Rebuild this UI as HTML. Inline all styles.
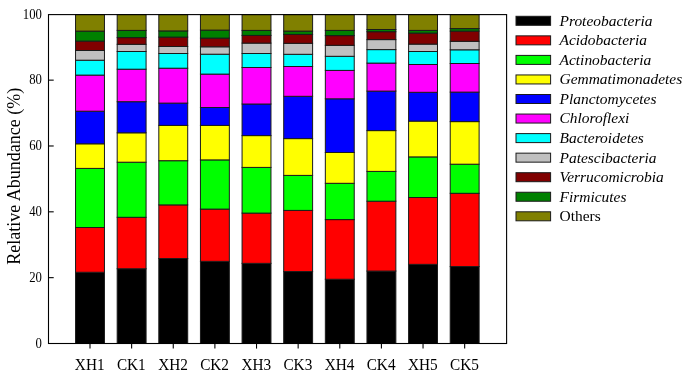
<!DOCTYPE html><html><head><meta charset="utf-8"><title>Relative Abundance</title>
<style>html,body{margin:0;padding:0;background:#fff;}svg{display:block;}text{font-family:"Liberation Serif","Times New Roman",serif;fill:#000;}</style></head><body>
<svg width="685" height="386" viewBox="0 0 685 386">
<rect x="0" y="0" width="685" height="386" fill="#fff"/>
<rect x="75.55" y="272.25" width="28.9" height="71.25" fill="#000000" stroke="#1a1a1a" stroke-width="1"/>
<rect x="75.55" y="227.50" width="28.9" height="44.75" fill="#ff0000" stroke="#1a1a1a" stroke-width="1"/>
<rect x="75.55" y="168.40" width="28.9" height="59.10" fill="#00ff00" stroke="#1a1a1a" stroke-width="1"/>
<rect x="75.55" y="143.80" width="28.9" height="24.60" fill="#ffff00" stroke="#1a1a1a" stroke-width="1"/>
<rect x="75.55" y="111.20" width="28.9" height="32.60" fill="#0000ff" stroke="#1a1a1a" stroke-width="1"/>
<rect x="75.55" y="75.10" width="28.9" height="36.10" fill="#ff00ff" stroke="#1a1a1a" stroke-width="1"/>
<rect x="75.55" y="60.20" width="28.9" height="14.90" fill="#00ffff" stroke="#1a1a1a" stroke-width="1"/>
<rect x="75.55" y="50.50" width="28.9" height="9.70" fill="#c0c0c0" stroke="#1a1a1a" stroke-width="1"/>
<rect x="75.55" y="41.10" width="28.9" height="9.40" fill="#800000" stroke="#1a1a1a" stroke-width="1"/>
<rect x="75.55" y="31.10" width="28.9" height="10.00" fill="#008000" stroke="#1a1a1a" stroke-width="1"/>
<rect x="75.55" y="14.60" width="28.9" height="16.50" fill="#808000" stroke="#1a1a1a" stroke-width="1"/>
<rect x="117.18" y="268.75" width="28.9" height="74.75" fill="#000000" stroke="#1a1a1a" stroke-width="1"/>
<rect x="117.18" y="217.30" width="28.9" height="51.45" fill="#ff0000" stroke="#1a1a1a" stroke-width="1"/>
<rect x="117.18" y="162.20" width="28.9" height="55.10" fill="#00ff00" stroke="#1a1a1a" stroke-width="1"/>
<rect x="117.18" y="132.80" width="28.9" height="29.40" fill="#ffff00" stroke="#1a1a1a" stroke-width="1"/>
<rect x="117.18" y="101.70" width="28.9" height="31.10" fill="#0000ff" stroke="#1a1a1a" stroke-width="1"/>
<rect x="117.18" y="69.20" width="28.9" height="32.50" fill="#ff00ff" stroke="#1a1a1a" stroke-width="1"/>
<rect x="117.18" y="51.50" width="28.9" height="17.70" fill="#00ffff" stroke="#1a1a1a" stroke-width="1"/>
<rect x="117.18" y="44.30" width="28.9" height="7.20" fill="#c0c0c0" stroke="#1a1a1a" stroke-width="1"/>
<rect x="117.18" y="37.60" width="28.9" height="6.70" fill="#800000" stroke="#1a1a1a" stroke-width="1"/>
<rect x="117.18" y="30.40" width="28.9" height="7.20" fill="#008000" stroke="#1a1a1a" stroke-width="1"/>
<rect x="117.18" y="14.60" width="28.9" height="15.80" fill="#808000" stroke="#1a1a1a" stroke-width="1"/>
<rect x="158.81" y="258.55" width="28.9" height="84.95" fill="#000000" stroke="#1a1a1a" stroke-width="1"/>
<rect x="158.81" y="204.90" width="28.9" height="53.65" fill="#ff0000" stroke="#1a1a1a" stroke-width="1"/>
<rect x="158.81" y="160.70" width="28.9" height="44.20" fill="#00ff00" stroke="#1a1a1a" stroke-width="1"/>
<rect x="158.81" y="125.40" width="28.9" height="35.30" fill="#ffff00" stroke="#1a1a1a" stroke-width="1"/>
<rect x="158.81" y="103.10" width="28.9" height="22.30" fill="#0000ff" stroke="#1a1a1a" stroke-width="1"/>
<rect x="158.81" y="68.20" width="28.9" height="34.90" fill="#ff00ff" stroke="#1a1a1a" stroke-width="1"/>
<rect x="158.81" y="53.50" width="28.9" height="14.70" fill="#00ffff" stroke="#1a1a1a" stroke-width="1"/>
<rect x="158.81" y="46.50" width="28.9" height="7.00" fill="#c0c0c0" stroke="#1a1a1a" stroke-width="1"/>
<rect x="158.81" y="37.10" width="28.9" height="9.40" fill="#800000" stroke="#1a1a1a" stroke-width="1"/>
<rect x="158.81" y="30.90" width="28.9" height="6.20" fill="#008000" stroke="#1a1a1a" stroke-width="1"/>
<rect x="158.81" y="14.60" width="28.9" height="16.30" fill="#808000" stroke="#1a1a1a" stroke-width="1"/>
<rect x="200.44" y="261.35" width="28.9" height="82.15" fill="#000000" stroke="#1a1a1a" stroke-width="1"/>
<rect x="200.44" y="209.10" width="28.9" height="52.25" fill="#ff0000" stroke="#1a1a1a" stroke-width="1"/>
<rect x="200.44" y="159.90" width="28.9" height="49.20" fill="#00ff00" stroke="#1a1a1a" stroke-width="1"/>
<rect x="200.44" y="125.40" width="28.9" height="34.50" fill="#ffff00" stroke="#1a1a1a" stroke-width="1"/>
<rect x="200.44" y="107.50" width="28.9" height="17.90" fill="#0000ff" stroke="#1a1a1a" stroke-width="1"/>
<rect x="200.44" y="74.10" width="28.9" height="33.40" fill="#ff00ff" stroke="#1a1a1a" stroke-width="1"/>
<rect x="200.44" y="54.20" width="28.9" height="19.90" fill="#00ffff" stroke="#1a1a1a" stroke-width="1"/>
<rect x="200.44" y="46.80" width="28.9" height="7.40" fill="#c0c0c0" stroke="#1a1a1a" stroke-width="1"/>
<rect x="200.44" y="38.10" width="28.9" height="8.70" fill="#800000" stroke="#1a1a1a" stroke-width="1"/>
<rect x="200.44" y="30.10" width="28.9" height="8.00" fill="#008000" stroke="#1a1a1a" stroke-width="1"/>
<rect x="200.44" y="14.60" width="28.9" height="15.50" fill="#808000" stroke="#1a1a1a" stroke-width="1"/>
<rect x="242.07" y="263.35" width="28.9" height="80.15" fill="#000000" stroke="#1a1a1a" stroke-width="1"/>
<rect x="242.07" y="213.10" width="28.9" height="50.25" fill="#ff0000" stroke="#1a1a1a" stroke-width="1"/>
<rect x="242.07" y="167.40" width="28.9" height="45.70" fill="#00ff00" stroke="#1a1a1a" stroke-width="1"/>
<rect x="242.07" y="135.60" width="28.9" height="31.80" fill="#ffff00" stroke="#1a1a1a" stroke-width="1"/>
<rect x="242.07" y="104.00" width="28.9" height="31.60" fill="#0000ff" stroke="#1a1a1a" stroke-width="1"/>
<rect x="242.07" y="67.50" width="28.9" height="36.50" fill="#ff00ff" stroke="#1a1a1a" stroke-width="1"/>
<rect x="242.07" y="53.50" width="28.9" height="14.00" fill="#00ffff" stroke="#1a1a1a" stroke-width="1"/>
<rect x="242.07" y="43.10" width="28.9" height="10.40" fill="#c0c0c0" stroke="#1a1a1a" stroke-width="1"/>
<rect x="242.07" y="35.40" width="28.9" height="7.70" fill="#800000" stroke="#1a1a1a" stroke-width="1"/>
<rect x="242.07" y="30.40" width="28.9" height="5.00" fill="#008000" stroke="#1a1a1a" stroke-width="1"/>
<rect x="242.07" y="14.60" width="28.9" height="15.80" fill="#808000" stroke="#1a1a1a" stroke-width="1"/>
<rect x="283.70" y="271.55" width="28.9" height="71.95" fill="#000000" stroke="#1a1a1a" stroke-width="1"/>
<rect x="283.70" y="210.40" width="28.9" height="61.15" fill="#ff0000" stroke="#1a1a1a" stroke-width="1"/>
<rect x="283.70" y="175.40" width="28.9" height="35.00" fill="#00ff00" stroke="#1a1a1a" stroke-width="1"/>
<rect x="283.70" y="138.60" width="28.9" height="36.80" fill="#ffff00" stroke="#1a1a1a" stroke-width="1"/>
<rect x="283.70" y="96.30" width="28.9" height="42.30" fill="#0000ff" stroke="#1a1a1a" stroke-width="1"/>
<rect x="283.70" y="66.50" width="28.9" height="29.80" fill="#ff00ff" stroke="#1a1a1a" stroke-width="1"/>
<rect x="283.70" y="54.30" width="28.9" height="12.20" fill="#00ffff" stroke="#1a1a1a" stroke-width="1"/>
<rect x="283.70" y="43.30" width="28.9" height="11.00" fill="#c0c0c0" stroke="#1a1a1a" stroke-width="1"/>
<rect x="283.70" y="34.40" width="28.9" height="8.90" fill="#800000" stroke="#1a1a1a" stroke-width="1"/>
<rect x="283.70" y="31.10" width="28.9" height="3.30" fill="#008000" stroke="#1a1a1a" stroke-width="1"/>
<rect x="283.70" y="14.60" width="28.9" height="16.50" fill="#808000" stroke="#1a1a1a" stroke-width="1"/>
<rect x="325.33" y="279.25" width="28.9" height="64.25" fill="#000000" stroke="#1a1a1a" stroke-width="1"/>
<rect x="325.33" y="219.60" width="28.9" height="59.65" fill="#ff0000" stroke="#1a1a1a" stroke-width="1"/>
<rect x="325.33" y="183.30" width="28.9" height="36.30" fill="#00ff00" stroke="#1a1a1a" stroke-width="1"/>
<rect x="325.33" y="152.50" width="28.9" height="30.80" fill="#ffff00" stroke="#1a1a1a" stroke-width="1"/>
<rect x="325.33" y="98.80" width="28.9" height="53.70" fill="#0000ff" stroke="#1a1a1a" stroke-width="1"/>
<rect x="325.33" y="70.40" width="28.9" height="28.40" fill="#ff00ff" stroke="#1a1a1a" stroke-width="1"/>
<rect x="325.33" y="56.30" width="28.9" height="14.10" fill="#00ffff" stroke="#1a1a1a" stroke-width="1"/>
<rect x="325.33" y="45.30" width="28.9" height="11.00" fill="#c0c0c0" stroke="#1a1a1a" stroke-width="1"/>
<rect x="325.33" y="35.60" width="28.9" height="9.70" fill="#800000" stroke="#1a1a1a" stroke-width="1"/>
<rect x="325.33" y="30.40" width="28.9" height="5.20" fill="#008000" stroke="#1a1a1a" stroke-width="1"/>
<rect x="325.33" y="14.60" width="28.9" height="15.80" fill="#808000" stroke="#1a1a1a" stroke-width="1"/>
<rect x="366.96" y="271.05" width="28.9" height="72.45" fill="#000000" stroke="#1a1a1a" stroke-width="1"/>
<rect x="366.96" y="201.20" width="28.9" height="69.85" fill="#ff0000" stroke="#1a1a1a" stroke-width="1"/>
<rect x="366.96" y="171.40" width="28.9" height="29.80" fill="#00ff00" stroke="#1a1a1a" stroke-width="1"/>
<rect x="366.96" y="130.60" width="28.9" height="40.80" fill="#ffff00" stroke="#1a1a1a" stroke-width="1"/>
<rect x="366.96" y="91.10" width="28.9" height="39.50" fill="#0000ff" stroke="#1a1a1a" stroke-width="1"/>
<rect x="366.96" y="63.10" width="28.9" height="28.00" fill="#ff00ff" stroke="#1a1a1a" stroke-width="1"/>
<rect x="366.96" y="49.60" width="28.9" height="13.50" fill="#00ffff" stroke="#1a1a1a" stroke-width="1"/>
<rect x="366.96" y="39.60" width="28.9" height="10.00" fill="#c0c0c0" stroke="#1a1a1a" stroke-width="1"/>
<rect x="366.96" y="31.70" width="28.9" height="7.90" fill="#800000" stroke="#1a1a1a" stroke-width="1"/>
<rect x="366.96" y="29.50" width="28.9" height="2.20" fill="#008000" stroke="#1a1a1a" stroke-width="1"/>
<rect x="366.96" y="14.60" width="28.9" height="14.90" fill="#808000" stroke="#1a1a1a" stroke-width="1"/>
<rect x="408.59" y="264.35" width="28.9" height="79.15" fill="#000000" stroke="#1a1a1a" stroke-width="1"/>
<rect x="408.59" y="197.50" width="28.9" height="66.85" fill="#ff0000" stroke="#1a1a1a" stroke-width="1"/>
<rect x="408.59" y="156.90" width="28.9" height="40.60" fill="#00ff00" stroke="#1a1a1a" stroke-width="1"/>
<rect x="408.59" y="121.10" width="28.9" height="35.80" fill="#ffff00" stroke="#1a1a1a" stroke-width="1"/>
<rect x="408.59" y="92.30" width="28.9" height="28.80" fill="#0000ff" stroke="#1a1a1a" stroke-width="1"/>
<rect x="408.59" y="64.50" width="28.9" height="27.80" fill="#ff00ff" stroke="#1a1a1a" stroke-width="1"/>
<rect x="408.59" y="51.50" width="28.9" height="13.00" fill="#00ffff" stroke="#1a1a1a" stroke-width="1"/>
<rect x="408.59" y="44.10" width="28.9" height="7.40" fill="#c0c0c0" stroke="#1a1a1a" stroke-width="1"/>
<rect x="408.59" y="33.10" width="28.9" height="11.00" fill="#800000" stroke="#1a1a1a" stroke-width="1"/>
<rect x="408.59" y="30.40" width="28.9" height="2.70" fill="#008000" stroke="#1a1a1a" stroke-width="1"/>
<rect x="408.59" y="14.60" width="28.9" height="15.80" fill="#808000" stroke="#1a1a1a" stroke-width="1"/>
<rect x="450.22" y="266.55" width="28.9" height="76.95" fill="#000000" stroke="#1a1a1a" stroke-width="1"/>
<rect x="450.22" y="193.30" width="28.9" height="73.25" fill="#ff0000" stroke="#1a1a1a" stroke-width="1"/>
<rect x="450.22" y="164.20" width="28.9" height="29.10" fill="#00ff00" stroke="#1a1a1a" stroke-width="1"/>
<rect x="450.22" y="121.60" width="28.9" height="42.60" fill="#ffff00" stroke="#1a1a1a" stroke-width="1"/>
<rect x="450.22" y="92.10" width="28.9" height="29.50" fill="#0000ff" stroke="#1a1a1a" stroke-width="1"/>
<rect x="450.22" y="63.50" width="28.9" height="28.60" fill="#ff00ff" stroke="#1a1a1a" stroke-width="1"/>
<rect x="450.22" y="49.80" width="28.9" height="13.70" fill="#00ffff" stroke="#1a1a1a" stroke-width="1"/>
<rect x="450.22" y="41.30" width="28.9" height="8.50" fill="#c0c0c0" stroke="#1a1a1a" stroke-width="1"/>
<rect x="450.22" y="31.10" width="28.9" height="10.20" fill="#800000" stroke="#1a1a1a" stroke-width="1"/>
<rect x="450.22" y="28.60" width="28.9" height="2.50" fill="#008000" stroke="#1a1a1a" stroke-width="1"/>
<rect x="450.22" y="14.60" width="28.9" height="14.00" fill="#808000" stroke="#1a1a1a" stroke-width="1"/>
<rect x="48.5" y="14.6" width="458.10" height="328.90" fill="none" stroke="#000" stroke-width="1.1"/>
<text transform="translate(41.9,347.70) scale(0.925,1)" font-size="13.8" text-anchor="end">0</text>
<line x1="48.5" y1="277.66" x2="53.7" y2="277.66" stroke="#000" stroke-width="1.1"/>
<text transform="translate(41.9,281.86) scale(0.925,1)" font-size="13.8" text-anchor="end">20</text>
<line x1="48.5" y1="211.82" x2="53.7" y2="211.82" stroke="#000" stroke-width="1.1"/>
<text transform="translate(41.9,216.02) scale(0.925,1)" font-size="13.8" text-anchor="end">40</text>
<line x1="48.5" y1="145.98" x2="53.7" y2="145.98" stroke="#000" stroke-width="1.1"/>
<text transform="translate(41.9,150.18) scale(0.925,1)" font-size="13.8" text-anchor="end">60</text>
<line x1="48.5" y1="80.14" x2="53.7" y2="80.14" stroke="#000" stroke-width="1.1"/>
<text transform="translate(41.9,84.34) scale(0.925,1)" font-size="13.8" text-anchor="end">80</text>
<text transform="translate(41.9,18.50) scale(0.925,1)" font-size="13.8" text-anchor="end">100</text>
<line x1="90.00" y1="343.5" x2="90.00" y2="348.6" stroke="#000" stroke-width="1.1"/>
<text transform="translate(89.70,369.7) scale(0.955,1)" font-size="16" text-anchor="middle">XH1</text>
<line x1="131.63" y1="343.5" x2="131.63" y2="348.6" stroke="#000" stroke-width="1.1"/>
<text transform="translate(131.33,369.7) scale(0.955,1)" font-size="16" text-anchor="middle">CK1</text>
<line x1="173.26" y1="343.5" x2="173.26" y2="348.6" stroke="#000" stroke-width="1.1"/>
<text transform="translate(172.96,369.7) scale(0.955,1)" font-size="16" text-anchor="middle">XH2</text>
<line x1="214.89" y1="343.5" x2="214.89" y2="348.6" stroke="#000" stroke-width="1.1"/>
<text transform="translate(214.59,369.7) scale(0.955,1)" font-size="16" text-anchor="middle">CK2</text>
<line x1="256.52" y1="343.5" x2="256.52" y2="348.6" stroke="#000" stroke-width="1.1"/>
<text transform="translate(256.22,369.7) scale(0.955,1)" font-size="16" text-anchor="middle">XH3</text>
<line x1="298.15" y1="343.5" x2="298.15" y2="348.6" stroke="#000" stroke-width="1.1"/>
<text transform="translate(297.85,369.7) scale(0.955,1)" font-size="16" text-anchor="middle">CK3</text>
<line x1="339.78" y1="343.5" x2="339.78" y2="348.6" stroke="#000" stroke-width="1.1"/>
<text transform="translate(339.48,369.7) scale(0.955,1)" font-size="16" text-anchor="middle">XH4</text>
<line x1="381.41" y1="343.5" x2="381.41" y2="348.6" stroke="#000" stroke-width="1.1"/>
<text transform="translate(381.11,369.7) scale(0.955,1)" font-size="16" text-anchor="middle">CK4</text>
<line x1="423.04" y1="343.5" x2="423.04" y2="348.6" stroke="#000" stroke-width="1.1"/>
<text transform="translate(422.74,369.7) scale(0.955,1)" font-size="16" text-anchor="middle">XH5</text>
<line x1="464.67" y1="343.5" x2="464.67" y2="348.6" stroke="#000" stroke-width="1.1"/>
<text transform="translate(464.37,369.7) scale(0.955,1)" font-size="16" text-anchor="middle">CK5</text>
<text transform="translate(20.1,176.3) rotate(-90)" font-size="18" text-anchor="middle">Relative Abundance (%)</text>
<rect x="516" y="16.30" width="34.6" height="9.0" fill="#000000" stroke="#1a1a1a" stroke-width="1"/>
<text x="559.5" y="25.70" font-size="15.46" font-style="italic">Proteobacteria</text>
<rect x="516" y="35.85" width="34.6" height="9.0" fill="#ff0000" stroke="#1a1a1a" stroke-width="1"/>
<text x="559.5" y="45.25" font-size="15.46" font-style="italic">Acidobacteria</text>
<rect x="516" y="55.40" width="34.6" height="9.0" fill="#00ff00" stroke="#1a1a1a" stroke-width="1"/>
<text x="559.5" y="64.80" font-size="15.46" font-style="italic">Actinobacteria</text>
<rect x="516" y="74.95" width="34.6" height="9.0" fill="#ffff00" stroke="#1a1a1a" stroke-width="1"/>
<text x="559.5" y="84.35" font-size="15.46" font-style="italic">Gemmatimonadetes</text>
<rect x="516" y="94.50" width="34.6" height="9.0" fill="#0000ff" stroke="#1a1a1a" stroke-width="1"/>
<text x="559.5" y="103.90" font-size="15.46" font-style="italic">Planctomycetes</text>
<rect x="516" y="114.05" width="34.6" height="9.0" fill="#ff00ff" stroke="#1a1a1a" stroke-width="1"/>
<text x="559.5" y="123.45" font-size="15.46" font-style="italic">Chloroflexi</text>
<rect x="516" y="133.60" width="34.6" height="9.0" fill="#00ffff" stroke="#1a1a1a" stroke-width="1"/>
<text x="559.5" y="143.00" font-size="15.46" font-style="italic">Bacteroidetes</text>
<rect x="516" y="153.15" width="34.6" height="9.0" fill="#c0c0c0" stroke="#1a1a1a" stroke-width="1"/>
<text x="559.5" y="162.55" font-size="15.46" font-style="italic">Patescibacteria</text>
<rect x="516" y="172.70" width="34.6" height="9.0" fill="#800000" stroke="#1a1a1a" stroke-width="1"/>
<text x="559.5" y="182.10" font-size="15.46" font-style="italic">Verrucomicrobia</text>
<rect x="516" y="192.25" width="34.6" height="9.0" fill="#008000" stroke="#1a1a1a" stroke-width="1"/>
<text x="559.5" y="201.65" font-size="15.46" font-style="italic">Firmicutes</text>
<rect x="516" y="211.80" width="34.6" height="9.0" fill="#808000" stroke="#1a1a1a" stroke-width="1"/>
<text x="559.5" y="221.20" font-size="15.46">Others</text>
</svg></body></html>
